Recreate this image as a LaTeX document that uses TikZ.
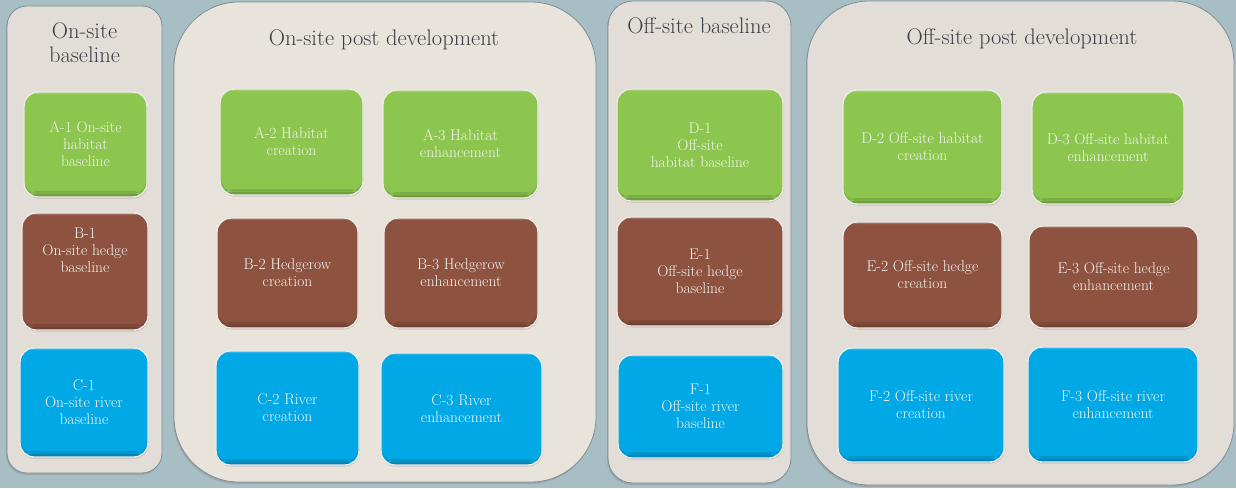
\documentclass[tikz,border=0pt]{standalone}
\usetikzlibrary{shadows}
\definecolor{bg}{RGB}{168,190,197}
\definecolor{panelA}{RGB}{226,222,215}
\definecolor{panelB}{RGB}{232,228,219}
\definecolor{paneledge}{RGB}{128,142,148}
\definecolor{grn}{RGB}{141,198,79}
\definecolor{brn}{RGB}{142,82,64}
\definecolor{blu}{RGB}{0,168,230}
\definecolor{boxedge}{RGB}{236,234,230}
\definecolor{boxtext}{RGB}{242,244,238}
\definecolor{titletext}{RGB}{62,62,70}
\newcommand\myboxfont{\fontsize{15.5}{17}\selectfont}
\newcommand\mytitlefont{\fontsize{22.5}{24}\selectfont}
\tikzset{
  panel/.style={fill=#1, draw=paneledge, line width=0.8pt, inner sep=0pt,
    drop shadow={shadow xshift=-1pt, shadow yshift=-2pt, opacity=0.35}},
  paneltitle/.style={text=titletext, font=\mytitlefont, align=center, inner sep=0pt},
  box/.style={fill=#1, draw=boxedge, line width=1.4pt, rounded corners=14pt,
    text=boxtext, align=center, font=\myboxfont, inner sep=0pt,
    drop shadow={shadow xshift=0.5pt, shadow yshift=-1.5pt, opacity=0.3},
    path picture={\fill[#1!80!black] ([yshift=3.5pt]path picture bounding box.south west) rectangle (path picture bounding box.south east);
      \fill[#1!88!black] ([yshift=6pt]path picture bounding box.south west) rectangle ([yshift=3.5pt]path picture bounding box.south east);
      \fill[#1!85!white] (path picture bounding box.north west) rectangle ([yshift=-2pt]path picture bounding box.north east);}},
  boxtextonly/.style={text=boxtext, align=center, font=\myboxfont, inner sep=0pt}
}
\begin{document}
\begin{tikzpicture}[x=1pt,y=-1pt]
\fill[bg] (0,0) rectangle (1236,488);
\useasboundingbox (0,0) rectangle (1236,488);

% panels
\node[panel=panelA, rounded corners=20pt, minimum width=155, minimum height=467] (P1) at (84.5,239.5) {};
\node[panel=panelB, rounded corners=65pt, minimum width=422, minimum height=480] (P2) at (385,242) {};
\node[panel=panelA, rounded corners=25pt, minimum width=183, minimum height=482] (P3) at (699.5,242) {};
\node[panel=panelA, rounded corners=62pt, minimum width=427, minimum height=484] (P4) at (1020.5,243) {};

% titles
\node[paneltitle] (T1) at (84.5,43) {On-site\\baseline};
\node[paneltitle] (T2) at (384,40) {On-site post development};
\node[paneltitle] (T3) at (699,26) {Off-site baseline};
\node[paneltitle] (T4) at (1022,39) {Off-site post development};

% on-site baseline
\node[box=grn, minimum width=123, minimum height=105] (A1) at (85.5,144.5) {A-1 On-site\\habitat\\baseline};
\node[box=brn, minimum width=126, minimum height=117] (B1) at (85,271.5) {};
\node[boxtextonly] (B1t) at (85,250) {B-1\\On-site hedge\\baseline};
\node[box=blu, minimum width=128, minimum height=109] (C1) at (84,402.5) {C-1\\On-site river\\baseline};

% on-site post development
\node[box=grn, minimum width=143, minimum height=106] (A2) at (291.5,142) {A-2 Habitat\\creation};
\node[box=grn, minimum width=155, minimum height=108] (A3) at (460.5,144) {A-3 Habitat\\enhancement};
\node[box=brn, minimum width=141, minimum height=110] (B2) at (287.5,273) {B-2 Hedgerow\\creation};
\node[box=brn, minimum width=154, minimum height=110] (B3) at (461,273) {B-3 Hedgerow\\enhancement};
\node[box=blu, minimum width=143, minimum height=114] (C2) at (287.5,408) {C-2 River\\creation};
\node[box=blu, minimum width=161, minimum height=112] (C3) at (461.5,409) {C-3 River\\enhancement};

% off-site baseline
\node[box=grn, minimum width=166, minimum height=112] (D1) at (700,145) {D-1\\Off-site\\habitat baseline};
\node[box=brn, minimum width=166, minimum height=109] (E1) at (700,271.5) {E-1\\Off-site hedge\\baseline};
\node[box=blu, minimum width=165, minimum height=103] (F1) at (700.5,406.5) {F-1\\Off-site river\\baseline};

% off-site post development
\node[box=grn, minimum width=159, minimum height=114] (D2) at (922.5,147) {D-2 Off-site habitat\\creation};
\node[box=grn, minimum width=152, minimum height=112] (D3) at (1108,148) {D-3 Off-site habitat\\enhancement};
\node[box=brn, minimum width=159, minimum height=106] (E2) at (922.5,275) {E-2 Off-site hedge\\creation};
\node[box=brn, minimum width=169, minimum height=102] (E3) at (1113.5,277) {E-3 Off-site hedge\\enhancement};
\node[box=blu, minimum width=166, minimum height=114] (F2) at (921,405) {F-2 Off-site river\\creation};
\node[box=blu, minimum width=170, minimum height=115] (F3) at (1113,404.5) {F-3 Off-site river\\enhancement};
\end{tikzpicture}
\end{document}
